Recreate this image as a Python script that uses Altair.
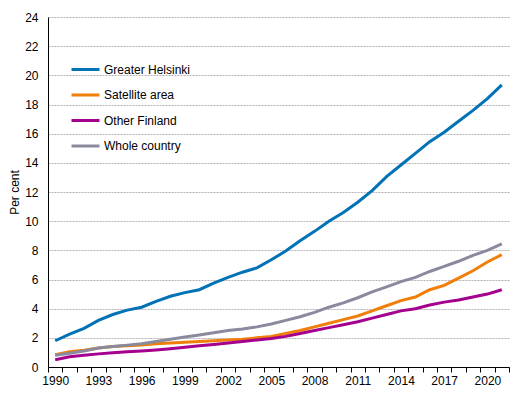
import altair as alt
import pandas as pd

years = list(range(1990, 2022))

series_names = ["Greater Helsinki", "Satellite area", "Other Finland", "Whole country"]
series_colors = ["#0072b5", "#f07f09", "#a5008d", "#8a8a9e"]

greater_helsinki = [1.8, 2.25, 2.65, 3.2, 3.6, 3.9, 4.1, 4.5, 4.85, 5.1, 5.3, 5.75, 6.15, 6.5, 6.8, 7.35,
                    7.95, 8.65, 9.3, 10.0, 10.6, 11.3, 12.1, 13.05, 13.85, 14.65, 15.45, 16.1, 16.85, 17.6, 18.4, 19.35]
satellite_area = [0.85, 1.05, 1.15, 1.3, 1.4, 1.45, 1.5, 1.6, 1.65, 1.7, 1.75, 1.8, 1.85, 1.9, 2.0, 2.1,
                  2.3, 2.5, 2.75, 3.0, 3.25, 3.5, 3.85, 4.2, 4.55, 4.8, 5.3, 5.6, 6.1, 6.6, 7.2, 7.7]
other_finland = [0.5, 0.7, 0.8, 0.9, 0.97, 1.05, 1.1, 1.17, 1.25, 1.35, 1.45, 1.55, 1.65, 1.75, 1.85, 1.95,
                 2.1, 2.3, 2.5, 2.7, 2.9, 3.1, 3.35, 3.6, 3.85, 4.0, 4.25, 4.45, 4.6, 4.8, 5.0, 5.3]
whole_country = [0.8, 0.95, 1.1, 1.3, 1.4, 1.5, 1.6, 1.75, 1.9, 2.05, 2.2, 2.35, 2.5, 2.6, 2.75, 2.95,
                 3.2, 3.45, 3.75, 4.1, 4.4, 4.75, 5.15, 5.5, 5.85, 6.15, 6.55, 6.9, 7.25, 7.65, 8.0, 8.45]

y_ticks = list(range(0, 25, 2))

rows = []
for order, (name, vals) in enumerate(zip(series_names, [greater_helsinki, satellite_area, other_finland, whole_country])):
    for yr, v in zip(years, vals):
        rows.append({"year": yr, "value": v, "series": name, "order": order})
df = pd.DataFrame(rows)

FONT = "Liberation Sans"

chart = alt.Chart(df).mark_line(strokeWidth=3).encode(
    x=alt.X("year:O",
            bandPosition=0.5,
            scale=alt.Scale(type="band", paddingInner=0, paddingOuter=0),
            axis=alt.Axis(title=None, labelAngle=0, tickBand="extent",
                          labelExpr="(datum.value - 1990) % 3 == 0 ? datum.label : ''",
                          tickSize=5, tickColor="#000", domainColor="#000",
                          labelFontSize=12, labelFont=FONT, labelColor="#000",
                          labelPadding=3, grid=False)),
    y=alt.Y("value:Q",
            scale=alt.Scale(domain=[0, 24], nice=False),
            axis=alt.Axis(title="Per cent", values=y_ticks, ticks=False,
                          labelPadding=10, labelFontSize=12, labelFont=FONT, labelColor="#000",
                          titleFontSize=12, titleFont=FONT, titleFontWeight="normal", titleColor="#000",
                          titlePadding=3, domainColor="#000",
                          grid=True, gridColor="#b4b0b4", gridDash=[2, 1], gridWidth=1)),
    color=alt.Color("series:N",
                    scale=alt.Scale(domain=series_names, range=series_colors),
                    legend=alt.Legend(title=None, orient="none", legendX=22, legendY=37,
                                      symbolType="stroke", symbolSize=784, symbolStrokeWidth=3,
                                      labelFontSize=12, labelFont=FONT, labelColor="#000",
                                      labelOffset=3, rowPadding=3.5)),
    order=alt.Order("order:Q"),
).properties(
    width=461, height=350,
    autosize=alt.AutoSizeParams(type="none"),
    padding={"left": 40, "top": 9, "right": 10, "bottom": 30},
).configure_view(stroke=None).configure_axis(domainWidth=1)

chart.save("out.html", embed_options={"renderer": "svg", "actions": False})
